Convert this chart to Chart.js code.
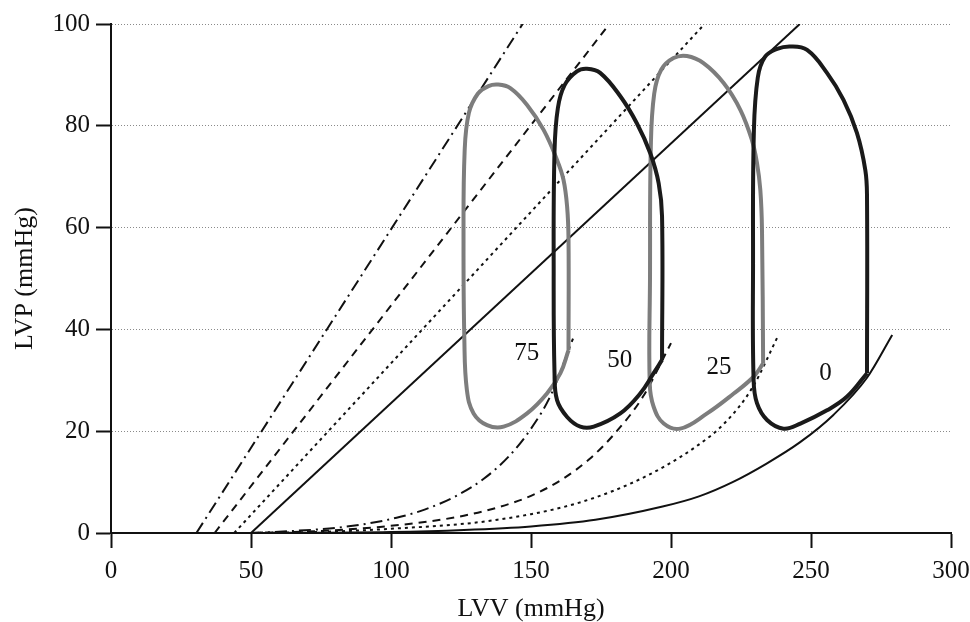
<!DOCTYPE html>
<html lang="en">
<head>
<meta charset="UTF-8">
<title>LVP vs LVV</title>
<script src="https://cdn.jsdelivr.net/npm/chart.js"></script>
<style>
    body { margin: 0; padding: 0; background: #fff; }
    #wrap { width: 970px; height: 622px; }
</style>
</head>
<body>
<div id="wrap"><canvas id="pvChart" width="970" height="622"></canvas></div>
<script>
// axis ticks
const xTicks = [0, 50, 100, 150, 200, 250, 300];
const yTicks = [0, 20, 40, 60, 80, 100];

// end-systolic lines [LVV, LVP]
const espvrSolid   = [[50, 0], [246, 100]];
const espvrDotted  = [[44, 0], [212, 100]];
const espvrDashed  = [[37, 0], [178, 100]];
const espvrDashDot = [[30.5, 0], [147, 100]];

// end-diastolic curves
const edpvrSolid   = [[50, 0], [100, 0.2], [126, 0.6], [150, 1.3], [173, 2.6], [197, 5.2], [210, 7.2], [222, 10.0], [234, 13.6], [246, 17.8], [258, 23.2], [270, 30.5], [279, 38.9]];
const edpvrDotted  = [[50, 0], [80, 0.3], [102, 0.9], [126, 1.8], [138, 2.6], [150, 3.7], [161.6, 5.1], [173.6, 7.1], [185.5, 9.7], [197.4, 13.0], [209, 17.0], [219, 21.5], [229, 28.5], [238.4, 38.9]];
const edpvrDashed  = [[50, 0], [75, 0.4], [96, 1.2], [114, 2.3], [126, 3.4], [138, 5.0], [150, 7.3], [161, 10.5], [171, 14.6], [180, 19.6], [190, 26.8], [200, 37.3]];
const edpvrDashDot = [[50, 0], [65, 0.4], [78, 0.9], [90, 1.7], [102, 3.0], [112, 4.6], [123, 7.2], [133, 10.6], [142, 15.0], [150, 20.5], [157, 27.0], [165, 38.2]];

// pressure-volume loops
const loop75 = [[163.4, 35.9], [160.5, 31.4], [155.7, 27.4], [148.6, 23.5], [140.2, 20.9], [134.3, 21.2], [129.5, 23.5], [127.1, 28.1], [126.2, 37.9], [125.9, 57.6], [126.3, 75], [127.8, 82.5], [131, 86.3], [134.8, 87.8], [138.2, 88.1], [142.6, 87.4], [148.6, 84.1], [154.5, 79.2], [159.3, 73.3], [161.6, 69.4], [162.9, 64.1], [163.4, 57.6], [163.4, 35.9]];
const loop50 = [[196.8, 34.0], [193.8, 31.4], [189, 27.4], [181.9, 23.5], [172.4, 20.9], [167.6, 20.9], [162.9, 22.8], [159.3, 26.1], [158.4, 31.4], [158.1, 51], [158.4, 75], [159.6, 83.5], [162, 88], [166.4, 90.7], [170, 91.2], [174.7, 90.4], [181.9, 85.8], [187.8, 80.5], [192.6, 74.6], [195.6, 68.7], [196.8, 62.2], [196.8, 34.0]];
const loop25 = [[232.9, 33.3], [229.5, 30.7], [222.4, 27.4], [212.9, 23.5], [203.3, 20.5], [197.4, 21.5], [193.8, 24.8], [192.4, 29.4], [192.5, 50], [192.8, 76], [194, 86.3], [196.5, 91], [200.9, 93.3], [205.7, 93.7], [211.6, 92.3], [218.8, 88.4], [224.8, 83.1], [228.9, 77.2], [230.7, 72.7], [231.9, 67.4], [232.5, 59.5], [232.9, 33.3]];
const loop0 = [[270, 31.4], [262.9, 26.8], [255.7, 24.1], [246.2, 21.5], [240.2, 20.5], [234.3, 22.2], [230.7, 25.5], [229.5, 30.0], [229.3, 53], [229.6, 79], [231, 89.5], [233.5, 93.5], [237.9, 95.1], [242.6, 95.6], [248.6, 94.9], [255.7, 90.4], [261.6, 85.1], [266.4, 78.6], [269.4, 71.3], [270, 66.1], [270, 31.4]];

// loop labels
const loopLabels = ['75', '50', '25', '0'];
const labelX = [148.5, 181.7, 217.1, 255.2];
const labelY = [35.3, 34.0, 32.6, 31.4];

const FONT = "'Liberation Serif', 'Times New Roman', serif";
const pts = arr => arr.map(p => ({x: p[0], y: p[1]}));

function loopSet(arr, color) {
    return { data: pts(arr), borderColor: color, borderWidth: 4, tension: 0.4, pointRadius: 0, showLine: true };
}
function lineSet(arr, dash, curve) {
    return { data: pts(arr), borderColor: '#111', borderWidth: 2, borderDash: dash, pointRadius: 0, showLine: true,
             cubicInterpolationMode: curve ? 'monotone' : 'default', tension: curve ? 0.4 : 0 };
}

const loopText = {
    id: 'loopText',
    afterDatasetsDraw(chart) {
        const c = chart.ctx, xs = chart.scales.x, ys = chart.scales.y;
        c.save();
        c.font = '25px ' + FONT;
        c.fillStyle = '#111';
        c.textAlign = 'center';
        c.textBaseline = 'middle';
        loopLabels.forEach((t, i) => {
            c.fillText(t, xs.getPixelForValue(labelX[i]), ys.getPixelForValue(labelY[i]));
        });
        c.restore();
    }
};

new Chart(document.getElementById('pvChart'), {
    type: 'scatter',
    data: {
        datasets: [
            loopSet(loop0, '#1a1a1a'),
            loopSet(loop50, '#1a1a1a'),
            loopSet(loop25, '#7d7d7d'),
            loopSet(loop75, '#7d7d7d'),
            lineSet(espvrSolid, [], false),
            lineSet(espvrDotted, [3, 4], false),
            lineSet(espvrDashed, [8, 6], false),
            lineSet(espvrDashDot, [12, 5, 2, 5], false),
            lineSet(edpvrSolid, [], true),
            lineSet(edpvrDotted, [3, 4], true),
            lineSet(edpvrDashed, [8, 6], true),
            lineSet(edpvrDashDot, [12, 5, 2, 5], true)
        ]
    },
    options: {
        responsive: false,
        animation: false,
        layout: { padding: { top: 24, right: 19, left: 0, bottom: 0 } },
        plugins: { legend: { display: false }, tooltip: { enabled: false } },
        scales: {
            x: {
                type: 'linear', min: 0, max: 300,
                afterBuildTicks: s => { s.ticks = xTicks.map(v => ({ value: v })); },
                afterFit: s => { s.height = 89; s.paddingRight = 19; s.paddingLeft = 0; },
                grid: { display: true, drawOnChartArea: false, drawTicks: true, tickLength: 15, tickWidth: 2, tickColor: '#111' },
                border: { display: true, color: '#111', width: 2 },
                ticks: { color: '#111', padding: 8, font: { family: FONT, size: 25 } },
                title: { display: true, text: 'LVV (mmHg)', color: '#111', padding: { top: 0, bottom: 0 },
                         font: { family: FONT, size: 26, lineHeight: 1.0 } }
            },
            y: {
                type: 'linear', min: 0, max: 100,
                afterBuildTicks: s => { s.ticks = yTicks.map(v => ({ value: v })); },
                afterFit: s => { s.width = 111; },
                grid: {
                    display: true, drawOnChartArea: true, drawTicks: true, tickLength: 15, tickWidth: 2, tickColor: '#111',
                    lineWidth: 1,
                    color: c => (c.tick && c.tick.value === 0) ? 'rgba(0,0,0,0)' : '#8a8a8a'
                },
                border: { display: true, color: '#111', width: 2, dash: [1, 2] },
                ticks: { color: '#111', padding: 6, font: { family: FONT, size: 25 } },
                title: { display: true, text: 'LVP (mmHg)', color: '#111', padding: { top: 10, bottom: 0 },
                         font: { family: FONT, size: 26 } }
            }
        }
    },
    plugins: [loopText]
});
</script>
</body>
</html>
